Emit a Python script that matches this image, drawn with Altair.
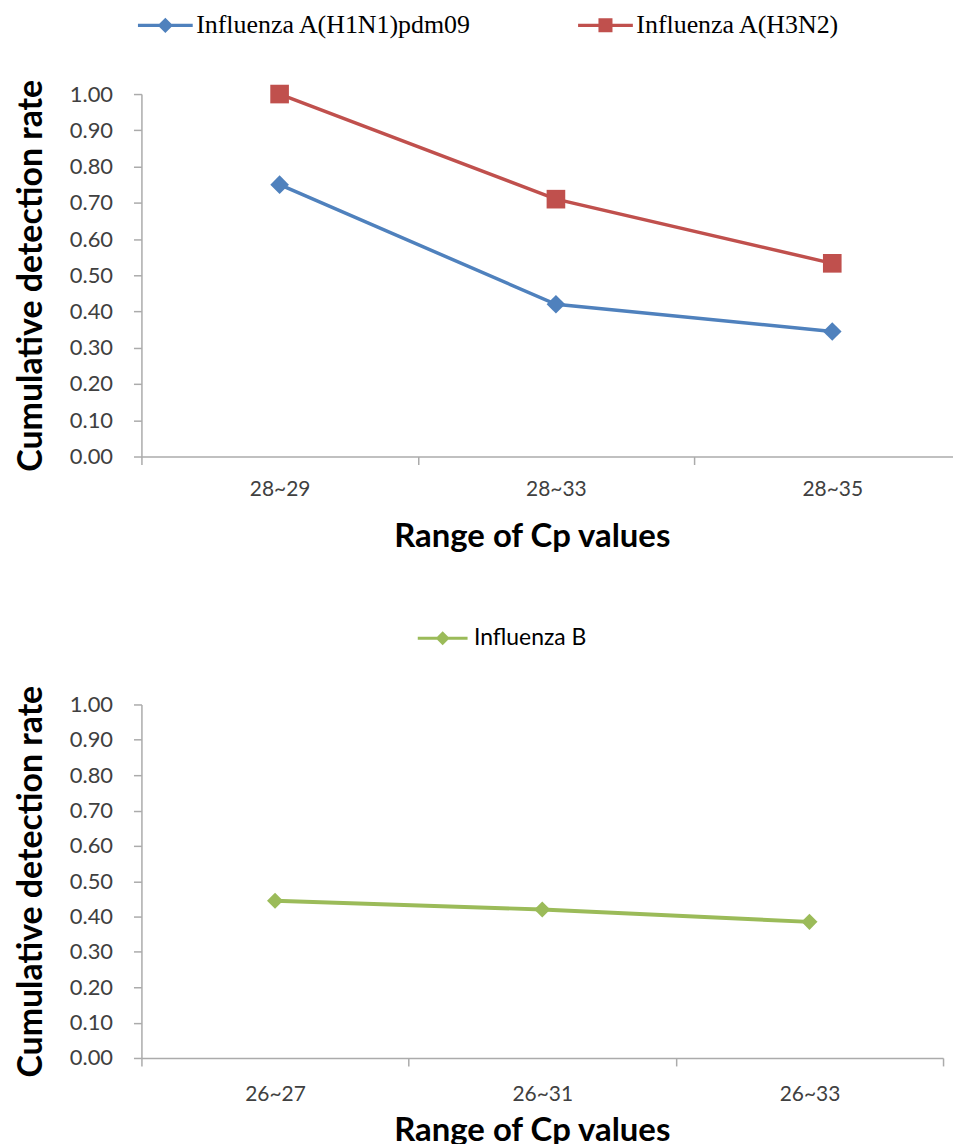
import json
import altair as alt
import pandas as pd

# ---------------- data ----------------
top_categories = ["28~29", "28~33", "28~35"]
top_series = ["Influenza A(H1N1)pdm09", "Influenza A(H3N2)"]
h1n1_values = [0.75, 0.42, 0.345]
h3n2_values = [1.00, 0.71, 0.533]

bottom_categories = ["26~27", "26~31", "26~33"]
bottom_series = ["Influenza B"]
flub_values = [0.445, 0.42, 0.385]

y_tick_values = [0.0, 0.1, 0.2, 0.3, 0.4, 0.5, 0.6, 0.7, 0.8, 0.9, 1.0]

# ---------------- style ----------------
top_colors = ["#4F81BD", "#C0504D"]
top_shapes = ["diamond", "square"]
bottom_colors = ["#9BBB59"]
bottom_shapes = ["diamond"]

AXIS_GREY = "#ABABAB"
LABEL_GREY = "#404040"
SANS = "Lato"
SERIF = "Liberation Serif"

# legend symbols: a line segment with the marker in the middle (filled polygons)
LEGEND_PATHS = {
    "diamond": "M-2.5,-0.15H-0.55L0,-0.7L0.55,-0.15H2.5V0.15H0.55L0,0.7L-0.55,0.15H-2.5Z",
    "square": "M-2.5,-0.15H-0.64V-0.64H0.64V-0.15H2.5V0.15H0.64V0.64H-0.64V0.15H-2.5Z",
}


def make_df(categories, series, values_list):
    rows = []
    for s, vals in zip(series, values_list):
        for i, (c, v) in enumerate(zip(categories, vals)):
            rows.append({"category": c, "idx": i, "series": s, "value": v})
    return pd.DataFrame(rows)


def ternary(series, mapping):
    expr = json.dumps(mapping[series[-1]])
    for s in reversed(series[:-1]):
        expr = f"datum.value === {json.dumps(s)} ? {json.dumps(mapping[s])} : ({expr})"
    return expr


def panel(df, categories, series, colors, shapes, width, height, xmax,
          tick_vals, legend_font, legend_size, legend_x, legend_y,
          col_pad, sym_size, stroke_w, point_size, label_offset,
          x_label_pad, x_title_pad, x_title_x):
    base = alt.Chart(df).transform_calculate(pos="datum.idx + 0.5")

    y_enc = alt.Y(
        "value:Q",
        scale=alt.Scale(domain=[0, 1], nice=False, zero=True),
        axis=alt.Axis(
            values=y_tick_values, format=".2f", grid=False,
            title="Cumulative detection rate",
            titleFont=SANS, titleFontWeight="bold", titleFontSize=34,
            titleColor="black", titlePadding=21,
            labelFont=SANS, labelFontSize=22, labelColor=LABEL_GREY,
            labelPadding=21, tickSize=8, tickColor=AXIS_GREY, tickWidth=1.5,
            domainColor=AXIS_GREY, domainWidth=1.5,
        ),
    )
    x_scale = alt.Scale(domain=[0, xmax], nice=False, zero=False)
    color_map = dict(zip(series, colors))
    path_map = {s: LEGEND_PATHS[sh] for s, sh in zip(series, shapes)}
    if len(series) == 1:
        sym_type = path_map[series[0]]
        sym_fill = colors[0]
    else:
        sym_type = alt.ExprRef(ternary(series, path_map))
        sym_fill = alt.ExprRef(ternary(series, color_map))

    legend = alt.Legend(
        title=None, orient="none", legendX=legend_x, legendY=legend_y,
        direction="horizontal",
        symbolType=sym_type,
        symbolFillColor=sym_fill,
        symbolStrokeWidth=0,
        symbolSize=sym_size,
        labelFont=legend_font, labelFontSize=legend_size, labelColor="black",
        labelOffset=label_offset, columnPadding=col_pad, labelLimit=0,
    )

    lines = base.mark_line(strokeWidth=stroke_w).encode(
        x=alt.X("pos:Q", scale=x_scale,
                axis=alt.Axis(values=tick_vals, labels=False, ticks=True,
                              tickSize=8, tickColor=AXIS_GREY, tickWidth=1.5,
                              domain=True, domainColor=AXIS_GREY, domainWidth=1.5,
                              grid=False, title=None, orient="bottom")),
        y=y_enc,
        color=alt.Color("series:N", scale=alt.Scale(domain=series, range=colors),
                        legend=legend),
        order="idx:Q",
    )

    label_expr = f"{json.dumps(categories)}[floor(datum.value)]"
    label_axis = alt.Axis(values=[i + 0.5 for i in range(len(categories))],
                          labelExpr=label_expr, ticks=False, domain=False,
                          grid=False, orient="bottom",
                          labelFont=SANS, labelFontSize=21,
                          labelColor=LABEL_GREY, labelPadding=x_label_pad,
                          title="Range of Cp values", titleFont=SANS,
                          titleFontWeight="bold", titleFontSize=33,
                          titleColor="black", titlePadding=x_title_pad,
                          titleX=x_title_x)

    # one marker layer per series, each with its own constant shape/colour
    point_layers = []
    for k, (s, col, sh) in enumerate(zip(series, colors, shapes)):
        point_layers.append(
            base.transform_filter(alt.datum.series == s)
            .mark_point(filled=True, opacity=1, size=point_size, shape=sh,
                        color=col)
            .encode(
                x=alt.X("pos:Q", scale=x_scale,
                        axis=label_axis if k == 0 else None),
                y=y_enc,
            )
        )

    return alt.layer(lines, *point_layers).resolve_axis(
        x="independent").properties(width=width, height=height)


top_df = make_df(top_categories, top_series, [h1n1_values, h3n2_values])
bottom_df = make_df(bottom_categories, bottom_series, [flub_values])

top = panel(top_df, top_categories, top_series, top_colors, top_shapes,
            width=815, height=364, xmax=815 / 277.5, tick_vals=[0, 1, 2],
            legend_font=SERIF, legend_size=26, legend_x=11, legend_y=-82,
            col_pad=106, sym_size=484, stroke_w=3.5, point_size=350,
            label_offset=18, x_label_pad=22, x_title_pad=21, x_title_x=392)
bottom = panel(bottom_df, bottom_categories, bottom_series, bottom_colors,
               bottom_shapes, width=805, height=355, xmax=3,
               tick_vals=[0, 1, 2, 3],
               legend_font=SANS, legend_size=23, legend_x=291, legend_y=-78,
               col_pad=20, sym_size=400, stroke_w=4, point_size=260,
               label_offset=20, x_label_pad=26, x_title_pad=10, x_title_x=392)

chart = alt.vconcat(top, bottom, spacing=74).resolve_scale(
    color="independent"
).resolve_legend(color="independent").properties(
    padding={"left": 6, "top": 2, "right": 0, "bottom": 0}
).configure_view(stroke=None)

chart.save("out.html", embed_options={"renderer": "svg", "actions": False})
